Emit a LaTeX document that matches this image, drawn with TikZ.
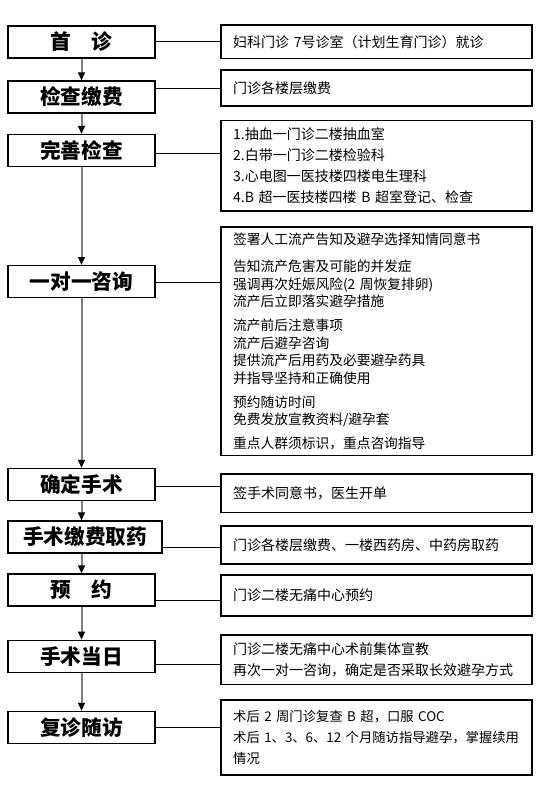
\documentclass[tikz,border=0pt]{standalone}
\usepackage{fontspec}
\setmainfont{Noto Sans CJK SC}
\usetikzlibrary{arrows.meta,positioning}
\definecolor{flowgray}{HTML}{808080}

\begin{document}
\begin{tikzpicture}[
    x=0.75pt,
    y=-0.75pt,
    stage/.style={draw, line width=0.9pt, minimum width=110.25pt, minimum height=24pt, inner sep=0pt, font=\fontsize{15.5pt}{18pt}\selectfont\bfseries},
    note/.style={draw, line width=0.9pt, minimum width=233.25pt, text width=215pt, inner xsep=9pt, inner ysep=0pt, align=left, font=\fontsize{10.5pt}{15.75pt}\selectfont},
    flow/.style={-{Triangle[length=6pt, width=5pt, color=black]}, line width=1.5pt, draw=flowgray},
    link/.style={line width=0.75pt}
  ]
    \useasboundingbox (0,0) rectangle (548,790);

    % steps on the left
    \node[stage] (l1) at (81.5,42) {首　诊};
    \node[stage] (l2) at (81.5,97) {检查缴费};
    \node[stage] (l3) at (81.5,150.5) {完善检查};
    \node[stage] (l4) at (81.5,281.7) {一对一咨询};
    \node[stage] (l5) at (81.5,484.5) {确定手术};
    \node[stage, minimum width=115.5pt] (l6) at (85,537) {手术缴费取药};
    \node[stage] (l7) at (81.5,590) {预　约};
    \node[stage] (l8) at (81.5,656.3) {手术当日};
    \node[stage] (l9) at (81.5,727.5) {复诊随访};

    % notes on the right
    \node[note, minimum height=25pt] (r1) at (376.5,41.7) {妇科门诊 7号诊室（计划生育门诊）就诊};
    \node[note, minimum height=27pt] (r2) at (376.5,88) {门诊各楼层缴费};
    \node[note, minimum height=67.9pt] (r3) at (376.5,165.8) {1.抽血一门诊二楼抽血室\\
      2.白带一门诊二楼检验科\\
      3.心电图一医技楼四楼电生理科\\
      4.B 超一医技楼四楼 B 超室登记、检查};
    \node[note, minimum height=171.4pt, font=\fontsize{10.3pt}{13.1pt}\selectfont] (r4) at (376.5,341.3) {签署人工流产告知及避孕选择知情同意书\\[7.5pt]
      告知流产危害及可能的并发症\\
      强调再次妊娠风险(2 周恢复排卵)\\
      流产后立即落实避孕措施\\[5pt]
      流产前后注意事项\\
      流产后避孕咨询\\
      提供流产后用药及必要避孕药具\\
      并指导坚持和正确使用\\[5pt]
      预约随访时间\\
      免费发放宣教资料/避孕套\\[5pt]
      重点人群须标识，重点咨询指导};
    \node[note, minimum height=29pt] (r5) at (376.5,493.3) {签手术同意书，医生开单};
    \node[note, minimum height=28.5pt] (r6) at (376.5,545) {门诊各楼层缴费、一楼西药房、中药房取药};
    \node[note, minimum height=30.75pt] (r7) at (376.5,595.5) {门诊二楼无痛中心预约};
    \node[note, minimum height=37pt] (r8) at (376.5,659.7) {门诊二楼无痛中心术前集体宣教\\
      再次一对一咨询，确定是否采取长效避孕方式};
    \node[note, minimum height=56.25pt, font=\fontsize{10pt}{15.75pt}\selectfont] (r9) at (376.5,737.5) {术后 2 周门诊复查 B 超，口服 COC\\
      \mbox{术后 1、3、6、12 个月随访指导避孕，掌握续用}\\
      情况};

    % flow down the left
    \draw[flow] (l1.south) -- (l2.north);
    \draw[flow] (l2.south) -- (l3.north);
    \draw[flow] (l3.south) -- (l4.north);
    \draw[flow] (l4.south) -- (l5.north);
    \draw[flow] (l5.south) -- (l5.south |- l6.north);
    \draw[flow] (l5.south |- l6.south) -- (l7.north);
    \draw[flow] (l7.south) -- (l8.north);
    \draw[flow] (l8.south) -- (l9.north);

    % links to the notes
    \draw[link] (l1.east |- 0,41) -- (r1.west |- 0,41);
    \draw[link] (l2.east |- 0,88.5) -- (r2.west |- 0,88.5);
    \draw[link] (l3.east |- 0,153) -- (r3.west |- 0,153);
    \draw[link] (l4.east |- 0,282) -- (r4.west |- 0,282);
    \draw[link] (l5.east |- 0,486.7) -- (r5.west |- 0,486.7);
    \draw[link] (l6.east |- 0,547.3) -- (r6.west |- 0,547.3);
    \draw[link] (l7.east |- 0,600.7) -- (r7.west |- 0,600.7);
    \draw[link] (l8.east |- 0,664) -- (r8.west |- 0,664);
    \draw[link] (l9.east |- 0,727.3) -- (r9.west |- 0,727.3);
  \end{tikzpicture}
\end{document}
